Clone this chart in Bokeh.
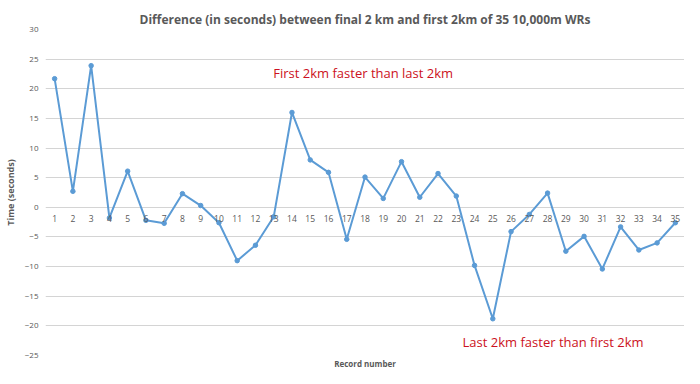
from bokeh.plotting import figure
from bokeh.models import Range1d, FixedTicker, Label, Title
from bokeh.embed import file_html
from bokeh.resources import INLINE

records = list(range(1, 36))
record_labels = [str(r) for r in records]
diff_seconds = [21.7, 2.7, 23.9, -1.8, 6.1, -2.2, -2.7, 2.3, 0.3, -2.6,
                -9.0, -6.4, -1.6, 16.0, 8.0, 5.9, -5.4, 5.1, 1.5, 7.7,
                1.7, 5.7, 1.9, -9.8, -18.8, -4.1, -1.2, 2.4, -7.4, -4.9,
                -10.4, -3.3, -7.2, -6.0, -2.6]
y_ticks = [-25, -20, -15, -10, -5, 0, 5, 10, 15, 20, 25, 30]

title_text = "Difference (in seconds) between final 2 km and first 2km of 35 10,000m WRs"
x_title = "Record number"
note_top = "First 2km faster than last 2km"
note_bottom = "Last 2km faster than first 2km"

FONT = "Open Sans"
GREY = "#595959"
BLUE = "#5B9BD5"
RED = "#CC1122"

p = figure(width=684, height=368, output_backend="svg", toolbar_location=None,
           x_range=Range1d(0.5, 35.5), y_range=Range1d(-25, 30),
           min_border_left=45, min_border_right=0, min_border_top=29, min_border_bottom=11)
p.outline_line_color = None

p.title.text = title_text
p.title.text_font = FONT
p.title.text_font_size = "12px"
p.title.text_font_style = "bold"
p.title.text_color = GREY
p.title.align = "center"
p.title.vertical_align = "top"
p.title.standoff = 0

p.add_layout(Title(text=x_title, align="center", text_font=FONT, text_font_size="8px",
                   text_font_style="bold", text_color=GREY, standoff=0), "below")

p.xgrid.grid_line_color = None
p.ygrid.grid_line_color = "#D4D4D4"
p.ygrid.grid_line_width = 1
p.ygrid.ticker = FixedTicker(ticks=y_ticks)

p.yaxis.ticker = FixedTicker(ticks=y_ticks)
p.yaxis.axis_line_color = None
p.yaxis.major_tick_line_color = None
p.yaxis.minor_tick_line_color = None
p.yaxis.major_tick_out = 0
p.yaxis.minor_tick_out = 0
p.yaxis.major_label_standoff = 7
p.yaxis.major_label_text_font = FONT
p.yaxis.major_label_text_font_size = "8px"
p.yaxis.major_label_text_color = GREY
p.yaxis.axis_label = "Time (seconds)"
p.yaxis.axis_label_text_font = FONT
p.yaxis.axis_label_text_font_size = "9px"
p.yaxis.axis_label_text_font_style = "bold"
p.yaxis.axis_label_text_color = GREY
p.yaxis.axis_label_standoff = 5

p.xaxis.visible = False

p.line(records, diff_seconds, line_color=BLUE, line_width=2)
p.scatter(records, diff_seconds, size=4.5, fill_color=BLUE, line_color=BLUE)

# category labels sitting just under the zero line, as in the source chart
p.text(x=records, y=[0] * len(records), text=record_labels, y_offset=11,
       text_align="center", text_baseline="middle", text_font_size="8.5px",
       text_color=GREY, text_font={"value": FONT})

p.add_layout(Label(x=17.9, y=22.7, text=note_top, text_align="center", text_baseline="middle",
                   text_font=FONT, text_font_size="13px", text_color=RED))
p.add_layout(Label(x=28.3, y=-22.7, text=note_bottom, text_align="center", text_baseline="middle",
                   text_font=FONT, text_font_size="13px", text_color=RED))

open("out.html", "w").write(file_html(p, INLINE))
